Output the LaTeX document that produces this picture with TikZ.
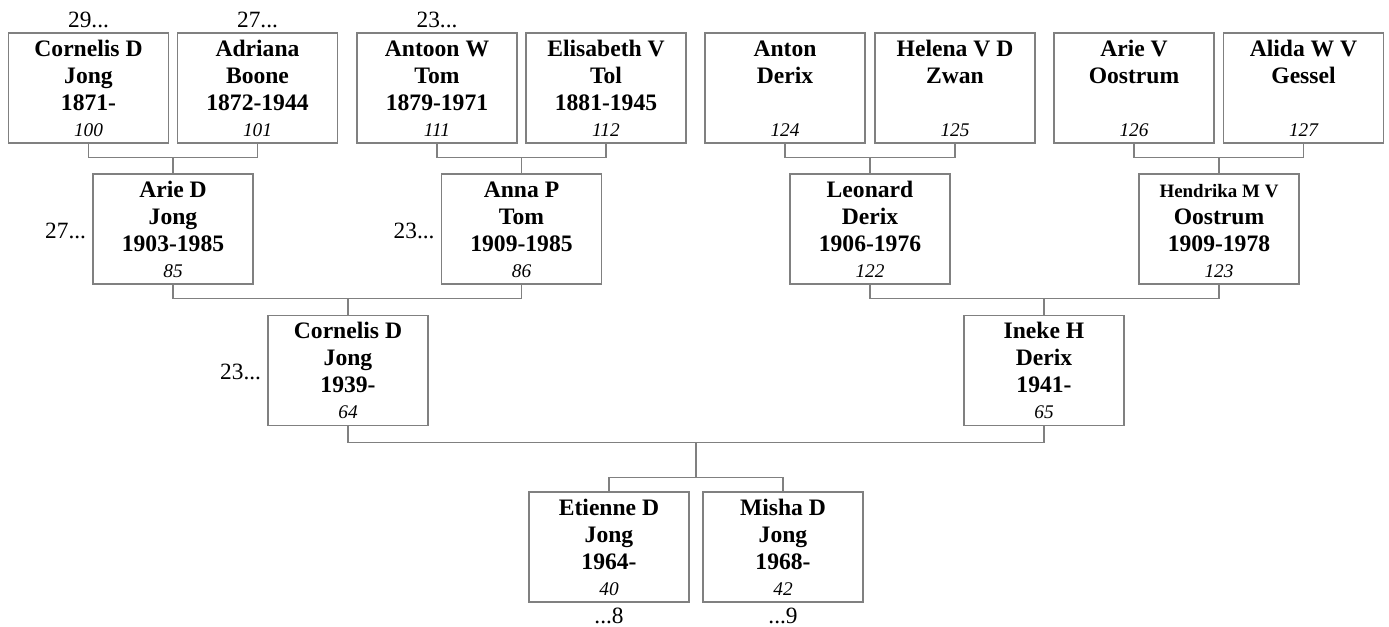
\documentclass[tikz,border=0pt]{standalone}
\usepackage{fontspec}
\setmainfont{Liberation Serif}
\usetikzlibrary{calc}
\definecolor{lg}{RGB}{128,128,128}
\tikzset{
  person/.style={draw=lg, line width=1pt, minimum width=120pt, minimum height=82.5pt, inner sep=0pt, fill=white},
  nm/.style={anchor=base, inner sep=0pt, font=\fontsize{17.7}{20}\selectfont\bfseries},
  num/.style={anchor=base, inner sep=0pt, font=\fontsize{14.5}{16}\selectfont\itshape},
  lbl/.style={inner sep=0pt, font=\fontsize{17.5}{20}\selectfont},
  conn/.style={draw=lg, line width=1pt}
}
\newcommand\pbox[7]{%
  \node[person] (#1) at (#2,#3) {};
  \node[nm] (#1a) at ($(#1.north)+(0,24)$) {#4};
  \node[nm] (#1b) at ($(#1.north)+(0,51)$) {#5};
  \node[nm] (#1c) at ($(#1.north)+(0,78)$) {#6};
  \node[num] (#1d) at ($(#1.north)+(0,104)$) {#7};
}
\begin{document}
\begin{tikzpicture}[x=0.75pt, y=-0.75pt]
\useasboundingbox (0,0) rectangle (1389,627);
% generation 1
\pbox{p100}{88.5}{88}{Cornelis D}{Jong}{1871-}{100}
\pbox{p101}{257.5}{88}{Adriana}{Boone}{1872-1944}{101}
\pbox{p111}{437}{88}{Antoon W}{Tom}{1879-1971}{111}
\pbox{p112}{606}{88}{Elisabeth V}{Tol}{1881-1945}{112}
\pbox{p124}{785}{88}{Anton}{Derix}{}{124}
\pbox{p125}{955}{88}{Helena V D}{Zwan}{}{125}
\pbox{p126}{1134}{88}{Arie V}{Oostrum}{}{126}
\pbox{p127}{1303.5}{88}{Alida W V}{Gessel}{}{127}
% generation 2
\pbox{p85}{173}{229}{Arie D}{Jong}{1903-1985}{85}
\pbox{p86}{521.5}{229}{Anna P}{Tom}{1909-1985}{86}
\pbox{p122}{870}{229}{Leonard}{Derix}{1906-1976}{122}
\pbox{p123}{1219}{229}{{\fontsize{14.2}{16}\selectfont Hendrika M V}}{Oostrum}{1909-1978}{123}
% generation 3
\pbox{p64}{348}{370.5}{Cornelis D}{Jong}{1939-}{64}
\pbox{p65}{1044}{370.5}{Ineke H}{Derix}{1941-}{65}
% generation 4
\pbox{p40}{609}{547}{Etienne D}{Jong}{1964-}{40}
\pbox{p42}{783}{547}{Misha D}{Jong}{1968-}{42}
% side labels
\node[lbl, anchor=base] (l100) at ($(p100.north)+(0,-5)$) {29...};
\node[lbl, anchor=base] (l101) at ($(p101.north)+(0,-5)$) {27...};
\node[lbl, anchor=base] (l111) at ($(p111.north)+(0,-5)$) {23...};
\node[lbl, anchor=base east] (l85) at ($(p85.north west)+(-6,65)$) {27...};
\node[lbl, anchor=base east] (l86) at ($(p86.north west)+(-6,65)$) {23...};
\node[lbl, anchor=base east] (l64) at ($(p64.north west)+(-6,65)$) {23...};
\node[lbl, anchor=base] (l40) at ($(p40.south)+(0,21)$) {...8};
\node[lbl, anchor=base] (l42) at ($(p42.south)+(0,21)$) {...9};
% connectors
\coordinate (j85) at ($(p85.north)+(0,-16)$);
\draw[conn] (p100.south) |- (j85) -| (p101.south);
\draw[conn] (j85) -- (p85.north);
\coordinate (j86) at ($(p86.north)+(0,-16)$);
\draw[conn] (p111.south) |- (j86) -| (p112.south);
\draw[conn] (j86) -- (p86.north);
\coordinate (j122) at ($(p122.north)+(0,-16)$);
\draw[conn] (p124.south) |- (j122) -| (p125.south);
\draw[conn] (j122) -- (p122.north);
\coordinate (j123) at ($(p123.north)+(0,-16)$);
\draw[conn] (p126.south) |- (j123) -| (p127.south);
\draw[conn] (j123) -- (p123.north);
\coordinate (j64) at ($(p64.north)+(0,-16)$);
\draw[conn] (p85.south) |- (j64) -| (p86.south);
\draw[conn] (j64) -- (p64.north);
\coordinate (j65) at ($(p65.north)+(0,-16)$);
\draw[conn] (p122.south) |- (j65) -| (p123.south);
\draw[conn] (j65) -- (p65.north);
\coordinate (jc) at ($(p64.south)!0.5!(p65.south)+(0,16)$);
\coordinate (kc) at ($(jc)+(0,35)$);
\draw[conn] (p64.south) |- (jc) -| (p65.south);
\draw[conn] (jc) -- (kc);
\draw[conn] (p40.north) |- (kc) -| (p42.north);
\end{tikzpicture}
\end{document}
